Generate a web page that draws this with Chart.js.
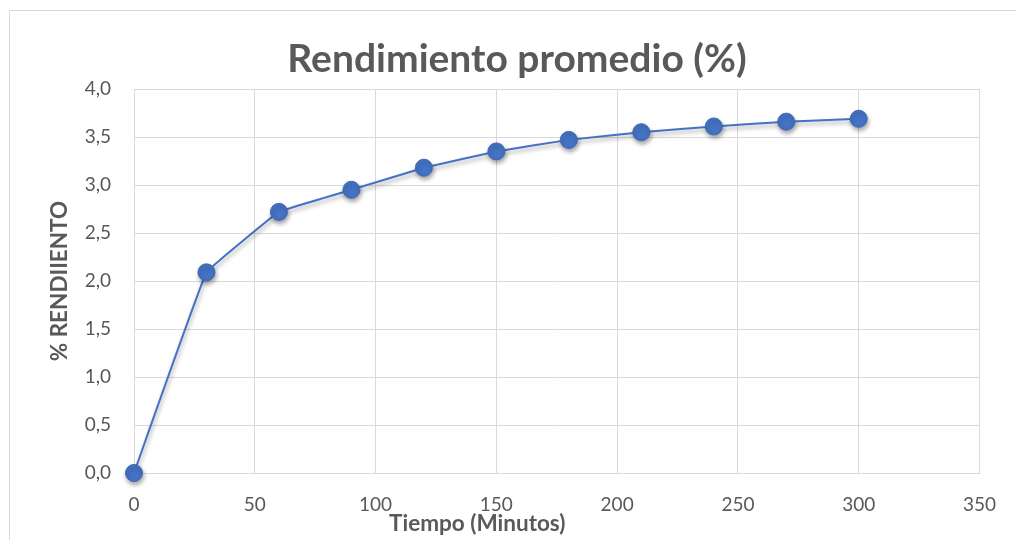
<!DOCTYPE html>
<html>
<head>
<meta charset="utf-8">
<script src="https://cdn.jsdelivr.net/npm/chart.js@4/dist/chart.umd.min.js"></script>
<style>
  html, body { margin: 0; padding: 0; background: #ffffff; overflow: hidden; }
  #c { display: block; }
</style>
</head>
<body>
<canvas id="c" width="1016" height="540" style="width:1016px;height:540px"></canvas>
<script>
// Tiempo de reacción (minutos) y rendimiento promedio (%)
const tiempos = [0, 30, 60, 90, 120, 150, 180, 210, 240, 270, 300];
const rendimiento = [0, 2.09, 2.72, 2.95, 3.18, 3.35, 3.47, 3.55, 3.61, 3.66, 3.69];
const etiquetasY = ['0,0', '0,5', '1,0', '1,5', '2,0', '2,5', '3,0', '3,5', '4,0'];
const etiquetasX = ['0', '50', '100', '150', '200', '250', '300', '350'];

const tituloGrafico = 'Rendimiento promedio (%)';
const tituloX = 'Tiempo (Minutos)';
const tituloY = '% RENDIIENTO';

const GRIS_TEXTO = '#595959';
const GRIS_LINEA = '#d9d9d9';
const AZUL = '#4472C4';

// Marco exterior, títulos y sombra de la serie
const decoracion = {
  id: 'decoracion',
  beforeDraw(chart) {
    const ctx = chart.ctx;
    ctx.save();
    ctx.fillStyle = '#ffffff';
    ctx.fillRect(0, 0, chart.width, chart.height);
    ctx.strokeStyle = GRIS_LINEA;
    ctx.lineWidth = 1;
    ctx.strokeRect(9.5, 10.5, 1200, 700);
    ctx.restore();
  },
  beforeDatasetsDraw(chart) {
    const ctx = chart.ctx;
    ctx.save();
    ctx.shadowColor = 'rgba(0,0,0,0.35)';
    ctx.shadowBlur = 4;
    ctx.shadowOffsetX = 1;
    ctx.shadowOffsetY = 3;
  },
  afterDatasetsDraw(chart) {
    chart.ctx.restore();
  },
  afterDraw(chart) {
    const ctx = chart.ctx;
    const a = chart.chartArea;
    ctx.save();
    ctx.fillStyle = GRIS_TEXTO;
    ctx.textAlign = 'center';
    ctx.textBaseline = 'middle';
    ctx.font = 'bold 39px Lato, "Open Sans", sans-serif';
    ctx.fillText(tituloGrafico, 517, 59);
    ctx.font = 'bold 22.5px Lato, "Open Sans", sans-serif';
    ctx.fillText(tituloX, a.left + a.width * 0.406, 524);
    ctx.translate(60, (a.top + a.bottom) / 2);
    ctx.rotate(-Math.PI / 2);
    ctx.fillText(tituloY, 0, 0);
    ctx.restore();
  }
};

new Chart(document.getElementById('c'), {
  type: 'line',
  data: {
    datasets: [{
      data: tiempos.map((t, i) => ({ x: t, y: rendimiento[i] })),
      borderColor: AZUL,
      borderWidth: 2,
      backgroundColor: AZUL,
      pointBackgroundColor: AZUL,
      pointBorderColor: '#3d68b5',
      pointBorderWidth: 1,
      pointRadius: 8.5,
      pointHoverRadius: 8.5,
      tension: 0.05,
      clip: false,
      fill: false
    }]
  },
  plugins: [decoracion],
  options: {
    responsive: false,
    animation: false,
    devicePixelRatio: 1,
    layout: { padding: { top: 89, right: 34, left: 0, bottom: 0 } },
    plugins: {
      legend: { display: false },
      title: { display: false },
      tooltip: { enabled: false }
    },
    scales: {
      x: {
        type: 'linear',
        min: 0,
        max: 350,
        afterFit(scale) { scale.height = 67; },
        afterBuildTicks(scale) {
          scale.ticks = etiquetasX.map(v => ({ value: Number(v) }));
        },
        ticks: {
          stepSize: 50,
          padding: 20,
          autoSkip: false,
          color: GRIS_TEXTO,
          font: { family: 'Lato, "Open Sans", sans-serif', size: 19 },
          maxRotation: 0,
          callback: (v) => etiquetasX[etiquetasX.indexOf(String(v))]
        },
        grid: { color: GRIS_LINEA, lineWidth: 1, drawTicks: false },
        border: { color: GRIS_LINEA, width: 1 }
      },
      y: {
        type: 'linear',
        min: 0,
        max: 4,
        afterFit(scale) { scale.width = 134; },
        afterBuildTicks(scale) {
          scale.ticks = etiquetasY.map(v => ({ value: Number(v.replace(',', '.')) }));
        },
        ticks: {
          stepSize: 0.5,
          padding: 23,
          autoSkip: false,
          color: GRIS_TEXTO,
          font: { family: 'Lato, "Open Sans", sans-serif', size: 19 },
          callback: (v) => etiquetasY[Math.round(v * 2)]
        },
        grid: { color: GRIS_LINEA, lineWidth: 1, drawTicks: false },
        border: { color: GRIS_LINEA, width: 1 }
      }
    }
  }
});
</script>
</body>
</html>
